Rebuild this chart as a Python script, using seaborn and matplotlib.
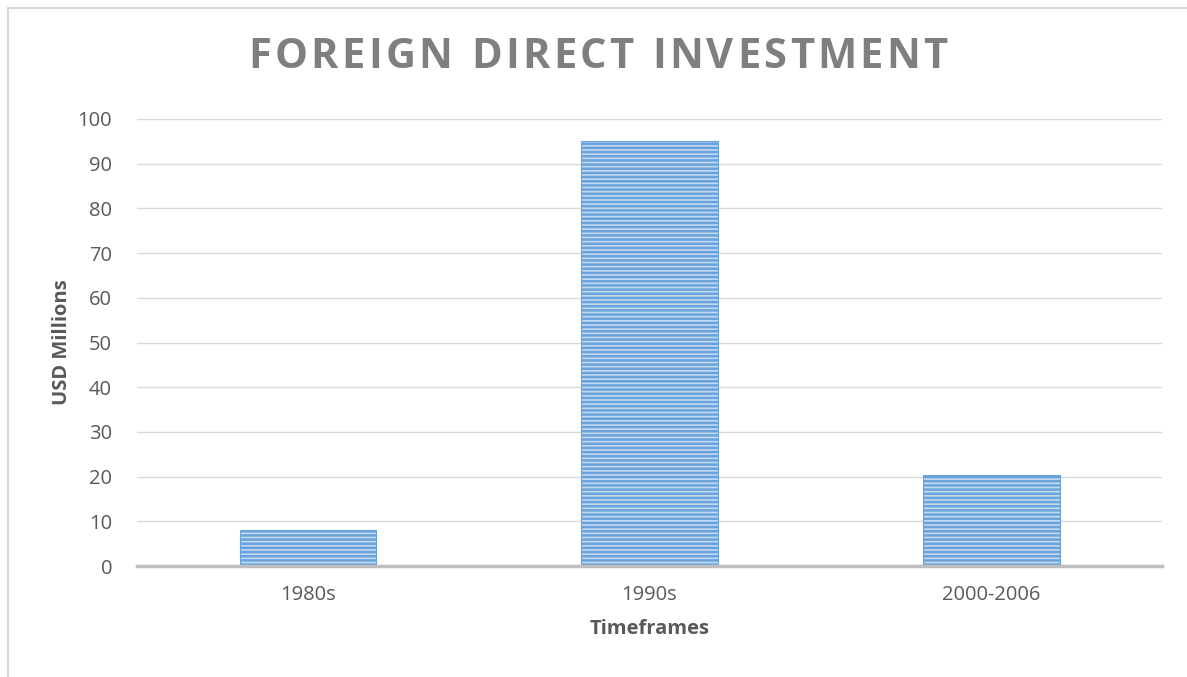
"""
Foreign Direct Investment bar chart
"""
import matplotlib
matplotlib.use('Agg')
import matplotlib.pyplot as plt
import seaborn as sns
from matplotlib.lines import Line2D

periods = ['1980s', '1990s', '2000-2006']
fdi_values = [8, 95, 20.4]
y_ticks = list(range(0, 101, 10))
title = 'FOREIGN DIRECT INVESTMENT'

sns.set_style('white')
plt.rcParams['font.family'] = ['Open Sans', 'DejaVu Sans']
plt.rcParams['hatch.linewidth'] = 1.8

W, H = 1187, 677
fig = plt.figure(figsize=(W / 100, H / 100), dpi=100)
ax = fig.add_axes([137 / W, (H - 566) / H, 1025 / W, (566 - 119) / H])

sns.barplot(x=periods, y=fdi_values, color='#c3d9f0', width=0.4,
            saturation=1, ax=ax, zorder=3)
for bar in ax.patches:
    bar.set_hatch('----')
    bar.set_edgecolor('#6aa3db')
    bar.set_linewidth(0.8)

ax.set_ylim(0, 100)
ax.set_xlim(-0.5, 2.5)
ax.set_yticks(y_ticks)
ax.grid(axis='y', color='#d9d9d9', linewidth=1, zorder=0)
ax.set_axisbelow(True)
for side in ['top', 'right', 'left']:
    ax.spines[side].set_visible(False)
ax.spines['bottom'].set_color('#bfbfbf')
ax.spines['bottom'].set_linewidth(2.5)
ax.spines['bottom'].set_zorder(4)
ax.tick_params(axis='both', length=0, labelsize=14.5, labelcolor='#595959')
ax.tick_params(axis='y', pad=18)
ax.tick_params(axis='x', pad=14)

ax.set_xlabel('Timeframes', fontsize=14.5, fontweight='bold', color='#595959', labelpad=10)
ax.set_ylabel('USD Millions', fontsize=14.5, fontweight='bold', color='#595959', labelpad=4)

# title with letter spacing: lay out each character by hand
renderer = fig.canvas.get_renderer()
tracking = 3.3  # px between letters
chars = []
for ch in title:
    t = fig.text(0, 1 - 58 / H, ch, ha='left', va='center',
                 fontsize=30, fontweight='bold', color='#7f7f7f')
    chars.append((t, t.get_window_extent(renderer).width if ch != ' ' else 12))
total = sum(w for _, w in chars) + tracking * (len(chars) - 1)
x = 598 - total / 2
for t, w in chars:
    t.set_x(x / W)
    x += w + tracking

# chart-area frame (only top and left edges visible)
fig.add_artist(Line2D([8 / W, 1], [1 - 8 / H, 1 - 8 / H], color='#d9d9d9', lw=1.5,
                      transform=fig.transFigure))
fig.add_artist(Line2D([8 / W, 8 / W], [0, 1 - 8 / H], color='#d9d9d9', lw=1.5,
                      transform=fig.transFigure))

fig.savefig('out.png', dpi=100)
